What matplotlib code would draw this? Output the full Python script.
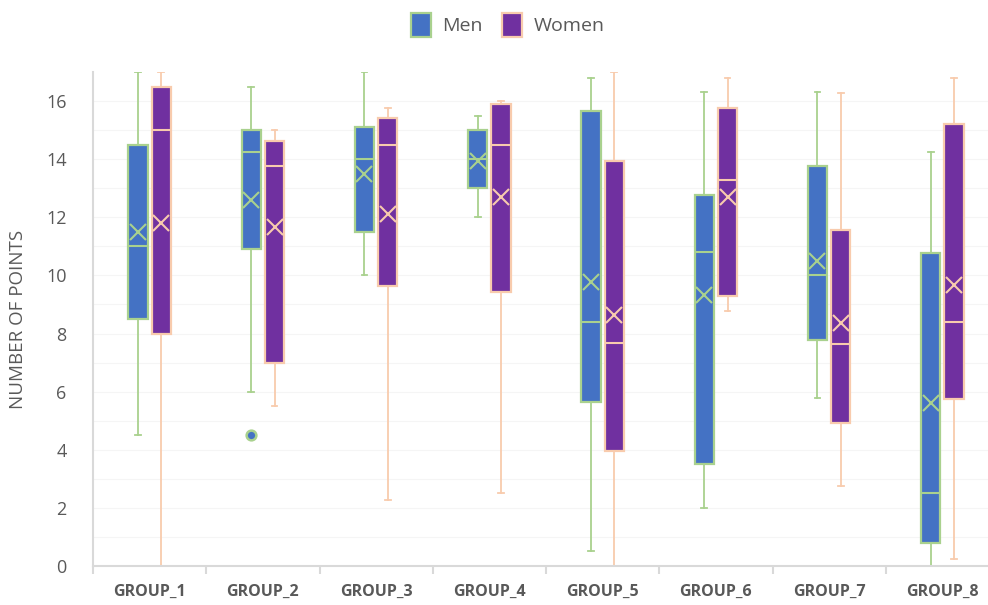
# Men / Women box plot by group

import matplotlib.pyplot as plt
from matplotlib.patches import Patch

plt.rcParams['font.family'] = ['Open Sans', 'DejaVu Sans']

groups = ['GROUP_1', 'GROUP_2', 'GROUP_3', 'GROUP_4',
          'GROUP_5', 'GROUP_6', 'GROUP_7', 'GROUP_8']

# Men
men_lo = [4.5, 6.0, 10.0, 12.0, 0.5, 2.0, 5.77, 0.0]
men_q1 = [8.5, 10.9, 11.5, 13.0, 5.65, 3.5, 7.78, 0.78]
men_med = [11.0, 14.25, 14.0, 14.0, 8.4, 10.8, 10.0, 2.5]
men_q3 = [14.5, 15.0, 15.1, 15.0, 15.65, 12.77, 13.76, 10.77]
men_hi = [17.0, 16.5, 17.0, 15.5, 16.8, 16.3, 16.3, 14.26]
men_mean = [11.5, 12.6, 13.5, 13.95, 9.78, 9.33, 10.5, 5.62]
men_fliers = [[], [4.5], [], [], [], [], [], []]

# Women
women_lo = [0.0, 5.5, 2.27, 2.5, 0.0, 8.79, 2.75, 0.24]
women_q1 = [8.0, 7.0, 9.65, 9.42, 3.97, 9.29, 4.91, 5.74]
women_med = [15.0, 13.78, 14.5, 14.5, 7.66, 13.28, 7.63, 8.4]
women_q3 = [16.5, 14.62, 15.4, 15.89, 13.95, 15.77, 11.57, 15.2]
women_hi = [17.0, 15.0, 15.77, 16.01, 17.0, 16.78, 16.28, 16.79]
women_mean = [11.8, 11.68, 12.1, 12.69, 8.64, 12.71, 8.35, 9.66]
women_fliers = [[], [], [], [], [], [], [], []]


def make_stats(lo, q1, med, q3, hi, mean, fliers):
    stats = []
    for i in range(len(lo)):
        stats.append({'whislo': lo[i], 'q1': q1[i], 'med': med[i], 'q3': q3[i],
                      'whishi': hi[i], 'mean': mean[i], 'fliers': fliers[i]})
    return stats


fig = plt.figure(figsize=(9.88, 6.05), dpi=100)
ax = fig.add_axes([93 / 988, 39 / 605, 906 / 988, 494 / 605])

pos = list(range(1, len(groups) + 1))
series = [
    ('Men', make_stats(men_lo, men_q1, men_med, men_q3, men_hi, men_mean, men_fliers),
     '#4472C4', '#A9D18E', -0.103),
    ('Women', make_stats(women_lo, women_q1, women_med, women_q3, women_hi, women_mean, women_fliers),
     '#7030A0', '#F8CBAD', 0.103),
]

handles = []
for name, stats, face, edge, off in series:
    ax.bxp(stats, positions=[p + off for p in pos], widths=0.17,
           patch_artist=True, showmeans=True, capwidths=0.05,
           boxprops=dict(facecolor=face, edgecolor=edge, linewidth=1.6),
           medianprops=dict(color=edge, linewidth=1.5),
           whiskerprops=dict(color=edge, linewidth=1.3),
           capprops=dict(color=edge, linewidth=1.3),
           meanprops=dict(marker='x', markeredgecolor=edge, markersize=12,
                          markeredgewidth=1.5),
           flierprops=dict(marker='o', markerfacecolor=face, markeredgecolor=edge,
                           markersize=7, markeredgewidth=1.8))
    handles.append(Patch(facecolor=face, edgecolor=edge, linewidth=1.6, label=name))

ax.set_xlim(0.5, 8.5)
ax.set_ylim(0, 17)
ax.set_yticks(range(0, 17, 2))
ax.set_xticks(pos)
ax.set_xticklabels(groups, fontweight='bold', fontsize=11.5, color='#595959')
ax.set_xticks([p - 0.5 for p in pos] + [8.5], minor=True)
ax.tick_params(axis='x', which='major', length=0, pad=13)
ax.tick_params(axis='x', which='minor', length=6, color='#D9D9D9', width=1.5)
ax.tick_params(axis='y', length=0, labelsize=13, labelcolor='#595959', pad=19)

for v in range(1, 17):
    ax.axhline(v, color='#F5F5F5', linewidth=0.8, zorder=0)

for s in ['top', 'right']:
    ax.spines[s].set_visible(False)
ax.spines['left'].set_color('#D9D9D9')
ax.spines['bottom'].set_color('#D9D9D9')
ax.spines['left'].set_linewidth(1.5)
ax.spines['bottom'].set_linewidth(1.5)

ax.set_ylabel('NUMBER OF POINTS', fontsize=13.5, color='#595959', labelpad=14)

fig.legend(handles=handles, loc='center', bbox_to_anchor=(508 / 988, 1 - 25 / 605),
           ncol=2, frameon=False, fontsize=14, labelcolor='#595959',
           handlelength=1.0, handleheight=1.5, handletextpad=0.6, columnspacing=1.0)

plt.savefig('out.png', dpi=100)
